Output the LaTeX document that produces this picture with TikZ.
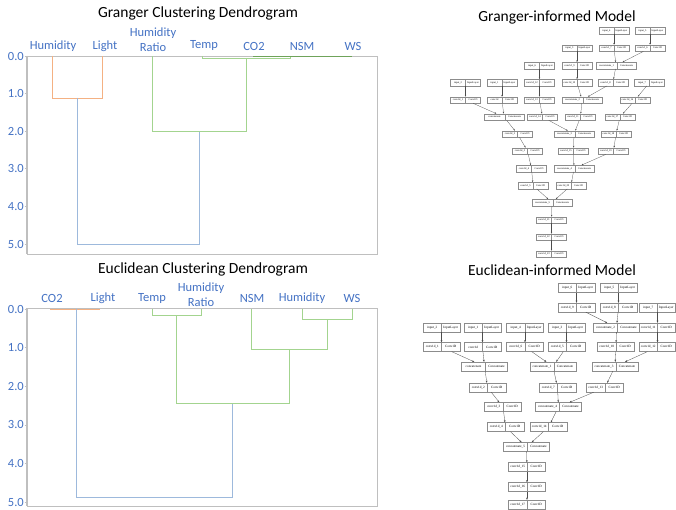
\documentclass[tikz,border=0pt]{standalone}
\usepackage{fontspec}
\setmainfont{Carlito}
\newfontfamily\gvfont{Liberation Serif}
\usetikzlibrary{arrows.meta}
\definecolor{tickblue}{HTML}{4472C4}
\definecolor{dorange}{HTML}{F4B183}
\definecolor{dblue}{HTML}{9DB9DC}
\definecolor{dgreen}{HTML}{A3D48F}
\definecolor{dgreendark}{HTML}{6FA35A}
\definecolor{framegray}{HTML}{BFBFBF}
\definecolor{boxgray}{HTML}{8C8C8C}
\tikzset{
  ttl/.style={font=\fontsize{15.5}{18}\selectfont, text=black, inner sep=0pt},
  leaf/.style={font=\fontsize{12.5}{15}\selectfont, text=tickblue, align=center, inner sep=0pt},
  tickl/.style={font=\fontsize{12.5}{15}\selectfont, text=tickblue, anchor=east, inner sep=0pt},
  framebox/.style={draw=framegray, line width=0.6pt},
  axisline/.style={draw=framegray, line width=1.3pt},
  lnk/.style={line width=0.8pt},
  ubox/.style={draw=boxgray, line width=0.25pt, inner sep=0pt, minimum height=6.5pt, fill=white,
    font=\gvfont\fontsize{2.6}{3}\selectfont},
  lbox/.style={draw=boxgray, line width=0.3pt, inner sep=0pt, minimum height=9pt, fill=white,
    font=\gvfont\fontsize{3.3}{4}\selectfont},
  uedge/.style={draw=black!70, line width=0.25pt, -{Stealth[length=1.8pt,width=1.4pt]}},
  ledge/.style={draw=black!70, line width=0.3pt, -{Stealth[length=2.2pt,width=1.7pt]}},
}
% generic two-cell layer box: style, name, x, y, w1, w2, label, type
\newcommand{\lyrbox}[8]{\node[#1, path picture={\draw[draw=boxgray, line width=0.25pt]
  ([xshift=#5pt]path picture bounding box.north west) -- ([xshift=#5pt]path picture bounding box.south west);}]
  (#2) at (#3,#4) {\makebox[#5pt]{#7}\makebox[#6pt]{#8}};}
\newcommand{\uin}[4]{\lyrbox{ubox}{#1}{#2}{#3}{15}{15}{#4}{InputLayer}}
\newcommand{\ucv}[4]{\lyrbox{ubox}{#1}{#2}{#3}{15}{15}{#4}{Conv1D}}
\newcommand{\uct}[4]{\lyrbox{ubox}{#1}{#2}{#3}{21}{19}{#4}{Concatenate}}
\newcommand{\lin}[4]{\lyrbox{lbox}{#1}{#2}{#3}{18.5}{18.5}{#4}{InputLayer}}
\newcommand{\lcv}[4]{\lyrbox{lbox}{#1}{#2}{#3}{18.5}{18.5}{#4}{Conv1D}}
\newcommand{\lct}[4]{\lyrbox{lbox}{#1}{#2}{#3}{24}{22}{#4}{Concatenate}}
% narrower boxes for the right edge
\newcommand{\linr}[4]{\lyrbox{lbox}{#1}{#2}{#3}{17.5}{18.5}{#4}{InputLayer}}
\newcommand{\lcvr}[4]{\lyrbox{lbox}{#1}{#2}{#3}{17.5}{18.5}{#4}{Conv1D}}
\begin{document}
\begin{tikzpicture}[x=1pt,y=-1pt]
\clip (0,0) rectangle (676,510);
\fill[white] (0,0) rectangle (676,510);

% ================= Granger dendrogram =================
\node[ttl] (t1) at (198,13) {Granger Clustering Dendrogram};
\draw[framebox] (27,56) rectangle (377,254);
\draw[axisline] (27,56) -- (27,254);
\foreach \v/\y in {0.0/56,1.0/93.6,2.0/131.2,3.0/168.8,4.0/206.4,5.0/244}{
  \draw[framegray, line width=0.6pt] (24.5,\y) -- (27,\y);
  \node[tickl] at (24,\y) {\v};
}
\node[leaf] (g1) at (53,46) {Humidity};
\node[leaf] (g2) at (105,46) {Light};
\node[leaf] (g3) at (153,39.5) {Humidity\\Ratio};
\node[leaf] (g4) at (204,46) {Temp};
\node[leaf] (g5) at (254,46) {CO2};
\node[leaf] (g6) at (302,46) {NSM};
\node[leaf] (g7) at (353,46) {WS};
\draw[lnk, dorange] (52,56) -- (52,98) -- (102,98) -- (102,56);
\draw[lnk, dblue] (77,98) -- (77,244) -- (199,244) -- (199,131);
\draw[lnk, dgreen] (152,56) -- (152,131) -- (246,131) -- (246,58);
\draw[lnk, dgreen] (202,56) -- (202,58) -- (290,58) -- (290,56);
\draw[lnk, dgreendark] (253,56) -- (352,56);

% ================= Euclidean dendrogram =================
\node[ttl] (t2) at (203,269) {Euclidean Clustering Dendrogram};
\draw[framebox] (27,308) rectangle (377,506);
\draw[axisline] (27,308) -- (27,506);
\foreach \v/\y in {0.0/309,1.0/347.6,2.0/386.2,3.0/424.8,4.0/463.4,5.0/502}{
  \draw[framegray, line width=0.6pt] (24.5,\y) -- (27,\y);
  \node[tickl] at (24,\y) {\v};
}
\node[leaf] (e1) at (52,298) {CO2};
\node[leaf] (e2) at (103,298) {Light};
\node[leaf] (e3) at (152,298) {Temp};
\node[leaf] (e4) at (201,294.5) {Humidity\\Ratio};
\node[leaf] (e5) at (252,298) {NSM};
\node[leaf] (e6) at (302,298) {Humidity};
\node[leaf] (e7) at (352,298) {WS};
\draw[lnk, dorange] (50,309) -- (100,309);
\draw[lnk, dblue] (76,309) -- (76,497) -- (232,497) -- (232,403);
\draw[lnk, dgreen] (152,309) -- (152,315) -- (201,315) -- (201,309);
\draw[lnk, dgreen] (176,315) -- (176,403) -- (289,403) -- (289,349);
\draw[lnk, dgreen] (251,309) -- (251,349) -- (327,349) -- (327,319);
\draw[lnk, dgreen] (302,309) -- (302,319) -- (352,319) -- (352,309);

% ================= Granger-informed model =================
\node[ttl] (t3) at (557,17) {Granger-informed Model};
\uin{uin4}{614}{30.5}{input\_4}
\uin{uin5}{650}{30.5}{input\_5}
\uin{uin3}{577}{48}{input\_3}
\ucv{uc7}{614}{48}{conv1d\_7}
\ucv{uc6}{650}{48}{conv1d\_6}
\uin{uin6}{539.5}{65.5}{input\_6}
\ucv{uc9}{577}{65.5}{conv1d\_9}
\uct{ucat1}{616}{65.5}{concatenate\_1}
\uin{uin2}{465.5}{82.5}{input\_2}
\uin{uin1}{502}{82.5}{input\_1}
\ucv{uc12}{539.5}{82.5}{conv1d\_12}
\ucv{uc10}{577}{82.5}{conv1d\_10}
\ucv{uc8}{613}{82.5}{conv1d\_8}
\uin{uin7}{649.5}{82.5}{input\_7}
\ucv{uc1}{465.5}{100}{conv1d\_1}
\ucv{uc0}{502}{100}{conv1d}
\ucv{uc13}{539.5}{100}{conv1d\_13}
\uct{ucat2}{582}{100}{concatenate\_2}
\ucv{uc16}{635}{100}{conv1d\_16}
\uct{ucat0}{504}{117}{concatenate}
\ucv{uc14}{542.5}{117}{conv1d\_14}
\ucv{uc11}{580.5}{117}{conv1d\_11}
\ucv{uc17}{620}{117}{conv1d\_17}
\ucv{uc2}{517.5}{134}{conv1d\_2}
\uct{ucat3}{574}{134}{concatenate\_3}
\ucv{uc18}{616}{134}{conv1d\_18}
\ucv{uc3}{527.5}{151}{conv1d\_3}
\ucv{uc15}{573.5}{151}{conv1d\_15}
\ucv{uc19}{613.5}{151}{conv1d\_19}
\ucv{uc4}{531.5}{168.5}{conv1d\_4}
\uct{ucat4}{574}{168.5}{concatenate\_4}
\ucv{uc5}{533}{185.5}{conv1d\_5}
\ucv{uc20}{571}{185.5}{conv1d\_20}
\uct{ucat5}{552}{202.5}{concatenate\_5}
\ucv{uc21}{551.5}{220}{conv1d\_21}
\ucv{uc22}{551.5}{237}{conv1d\_22}
\ucv{uc23}{551.5}{254}{conv1d\_23}
\foreach \a/\b in {uin4/uc7,uin5/uc6,uc7/ucat1,uc6/ucat1,uin3/uc9,ucat1/uc8,uc9/uc10,
  uin6/uc12,uc12/uc13,uc10/ucat2,uc8/ucat2,uin2/uc1,uin1/uc0,uin7/uc16,uc1/ucat0,uc0/ucat0,
  uc13/uc14,ucat2/uc11,uc16/uc17,ucat0/uc2,uc14/ucat3,uc11/ucat3,uc17/uc18,uc2/uc3,
  ucat3/uc15,uc18/uc19,uc3/uc4,uc15/ucat4,uc19/ucat4,uc4/uc5,ucat4/uc20,uc5/ucat5,
  uc20/ucat5,ucat5/uc21,uc21/uc22,uc22/uc23}
  \draw[uedge] (\a) -- (\b);

% ================= Euclidean-informed model =================
\node[ttl] (t4) at (552,270) {Euclidean-informed Model};
\lin{lin6}{576.5}{288}{input\_6}
\lin{lin5}{618.5}{288}{input\_5}
\lcv{lc9}{576.5}{307.5}{conv1d\_9}
\lcv{lc8}{618.5}{307.5}{conv1d\_8}
\linr{lin7}{657.5}{307.5}{input\_7}
\lin{lin2}{441.5}{327.5}{input\_2}
\lin{lin1}{482.5}{327.5}{input\_1}
\lin{lin4}{525}{327.5}{input\_4}
\lin{lin3}{566.5}{327.5}{input\_3}
\lct{lcat2}{616.5}{327.5}{concatenate\_2}
\lcvr{lc11}{657.5}{327.5}{conv1d\_11}
\lcv{lc1}{441.5}{347}{conv1d\_1}
\lcv{lc0}{482.5}{347}{conv1d}
\lcv{lc6}{525}{347}{conv1d\_6}
\lcv{lc5}{566.5}{347}{conv1d\_5}
\lcv{lc10}{616}{347}{conv1d\_10}
\lcvr{lc12}{657.5}{347}{conv1d\_12}
\lct{lcat0}{484.5}{366.5}{concatenate}
\lct{lcat1}{553}{366.5}{concatenate\_1}
\lct{lcat3}{615}{366.5}{concatenate\_3}
\lcv{lc2}{487.5}{387.5}{conv1d\_2}
\lcv{lc7}{557.5}{387.5}{conv1d\_7}
\lcv{lc13}{605}{387.5}{conv1d\_13}
\lcv{lc3}{503}{407}{conv1d\_3}
\lct{lcat4}{558.5}{407}{concatenate\_4}
\lcv{lc4}{505.5}{427}{conv1d\_4}
\lcv{lc14}{548.5}{427}{conv1d\_14}
\lct{lcat5}{526.5}{447}{concatenate\_5}
\lcv{lc15}{527}{467}{conv1d\_15}
\lcv{lc16}{527}{487}{conv1d\_16}
\lcv{lc17}{527}{504.5}{conv1d\_17}
\foreach \a/\b in {lin6/lc9,lin5/lc8,lc9/lcat2,lc8/lcat2,lin7/lc11,lc11/lc12,lin2/lc1,
  lin1/lc0,lin4/lc6,lin3/lc5,lcat2/lc10,lc1/lcat0,lc0/lcat0,lc6/lcat1,lc5/lcat1,
  lc10/lcat3,lc12/lcat3,lcat0/lc2,lcat1/lc7,lcat3/lc13,lc2/lc3,lc7/lcat4,lc13/lcat4,
  lc3/lc4,lcat4/lc14,lc4/lcat5,lc14/lcat5,lcat5/lc15,lc15/lc16,lc16/lc17}
  \draw[ledge] (\a) -- (\b);
\end{tikzpicture}
\end{document}
